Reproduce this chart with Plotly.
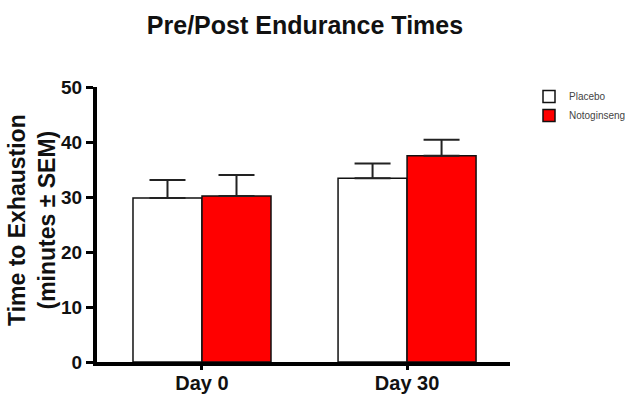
import plotly.graph_objects as go

days = ["Day 0", "Day 30"]
placebo_mean = [29.8, 33.4]
placebo_sem = [3.3, 2.7]
noto_mean = [30.2, 37.5]
noto_sem = [3.8, 2.9]
series_names = ["Placebo", "Notoginseng"]
y_ticks = [0, 10, 20, 30, 40, 50]

font_family = "Liberation Sans, Arial, sans-serif"

# plot-area geometry in pixels
W, H = 625, 395
L, R, T, B = 97, 115, 87, 33
pw, ph = W - L - R, H - T - B

fig = go.Figure()
for name, means, sems, fill in [
    (series_names[0], placebo_mean, placebo_sem, "white"),
    (series_names[1], noto_mean, noto_sem, "#ff0000"),
]:
    fig.add_trace(go.Bar(
        x=days, y=means, name=name,
        marker=dict(color=fill, line=dict(color="#111111", width=1.5)),
        error_y=dict(type="data", symmetric=False, array=sems,
                     arrayminus=[0] * len(sems),
                     color="#222222", thickness=2, width=18),
    ))

fig.update_layout(
    width=W, height=H,
    margin=dict(l=L, r=R, t=T, b=B, autoexpand=False),
    paper_bgcolor="white", plot_bgcolor="white",
    barmode="group", bargap=0.327, bargroupgap=0,
    font=dict(family=font_family, color="#111111"),
    title=dict(text="Pre/Post Endurance Times",
               x=305 / W, xanchor="center", y=1 - 25 / H, yanchor="middle",
               font=dict(size=25, color="#111111", weight="bold")),
    legend=dict(x=(529 - L) / pw, xanchor="left", y=1 + 5 / ph, yanchor="top",
                font=dict(size=10, color="#444444"),
                itemwidth=30, tracegroupgap=2, bgcolor="rgba(0,0,0,0)"),
    showlegend=True,
)
fig.update_xaxes(
    range=[-0.512, 1.502], showline=True, linecolor="black", linewidth=4,
    ticks="outside", ticklen=4, tickwidth=3, tickcolor="black",
    ticklabelstandoff=-4,
    tickfont=dict(size=20, color="#111111", family=font_family, weight="bold"),
    showgrid=False, automargin=False,
)
fig.update_yaxes(
    range=[0, 50], tickvals=y_ticks, showline=True, linecolor="black", linewidth=4,
    ticks="outside", ticklen=7, tickwidth=3, tickcolor="black",
    tickfont=dict(size=19, color="#111111", family=font_family, weight="bold"),
    showgrid=False, zeroline=False, automargin=False,
)
fig.add_annotation(
    text="Time to Exhaustion<br>(minutes ± SEM)",
    xref="paper", yref="paper", x=(32 - L) / pw, y=(H - B - 220) / ph,
    xanchor="center", yanchor="middle", textangle=-90, showarrow=False,
    font=dict(size=23, color="#111111", family=font_family, weight="bold"),
)

fig.write_html("out.html")
